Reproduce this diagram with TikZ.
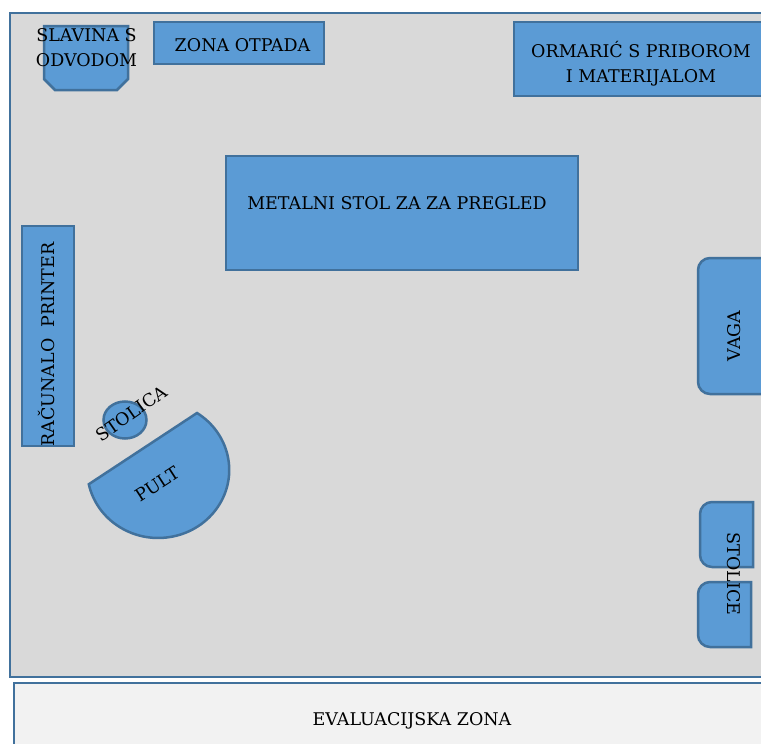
\documentclass[tikz,border=0pt]{standalone}
\usepackage{fontspec}
\setmainfont{DejaVu Serif}
\tikzset{x=1pt,y=1pt,
 room/.style={draw=lineblue,line width=2.5pt,fill=roomgrey},
 evalbox/.style={draw=lineblue,line width=2.5pt,fill=evalgrey},
 item/.style={draw=lineblue,line width=2.5pt,fill=itemblue},
 lbl/.style={inner sep=0pt,align=center,text=black,font=\fontsize{17.5}{25}\selectfont}}
\definecolor{lineblue}{HTML}{41719C}
\definecolor{itemblue}{HTML}{5B9BD5}
\definecolor{roomgrey}{HTML}{D9D9D9}
\definecolor{evalgrey}{HTML}{F2F2F2}
\begin{document}
\begin{tikzpicture}
\useasboundingbox (0,0) rectangle (761,-744);
\clip (0,0) rectangle (761,-744);
\draw[room] (10,-13) rectangle (790,-677);
\draw[evalbox] (14,-683) rectangle (790,-770);
% slavina
\draw[item] (44,-26) -- (128,-26) -- (128,-79) -- (117,-90) -- (55,-90) -- (44,-79) -- cycle;
\node[lbl] (slavina) at (86.5,-47.5) {SLAVINA S\\ODVODOM};
\draw[item] (154,-22) rectangle (324,-64);
\node[lbl] (otpad) at (242.5,-45) {ZONA OTPADA};
\draw[item] (514,-22) rectangle (790,-96);
\node[lbl] (ormaric) at (641,-63.5) {ORMARIĆ S PRIBOROM\\I MATERIJALOM};
\draw[item] (226,-156) rectangle (578,-270);
\node[lbl] (stol) at (397,-203.5) {METALNI STOL ZA ZA PREGLED};
\draw[item,rounded corners=12pt] (698,-258) rectangle (790,-394);
\node[lbl,rotate=90] (vaga) at (734,-336) {VAGA};
\draw[item] (22,-226) rectangle (74,-446);
\node[lbl,rotate=90] (racunalo) at (46.5,-344.5) {RAČUNALO\ \ PRINTER};
% pult
\draw[item] (197,-413) arc[start angle=56.9,end angle=-167.9,x radius=71,y radius=68] -- cycle;
\node[lbl,rotate=33] (pult) at (157.5,-484) {PULT};
\draw[item] (125,-420) ellipse[x radius=21.5,y radius=18.5];
\node[lbl,rotate=35] (stolica) at (131.5,-413.5) {STOLICA};
% stolice
\draw[item] (753,-502) -- (753,-567) -- (712,-567) arc[start angle=270,end angle=180,radius=12] -- (700,-514) arc[start angle=180,end angle=90,radius=12] -- cycle;
\draw[item] (751,-582) -- (751,-647) -- (710,-647) arc[start angle=270,end angle=180,radius=12] -- (698,-594) arc[start angle=180,end angle=90,radius=12] -- cycle;
\node[lbl,rotate=-90] (stolice) at (733.5,-574) {STOLICE};
\node[lbl] (evalz) at (412,-721) {EVALUACIJSKA ZONA};
\end{tikzpicture}
\end{document}
